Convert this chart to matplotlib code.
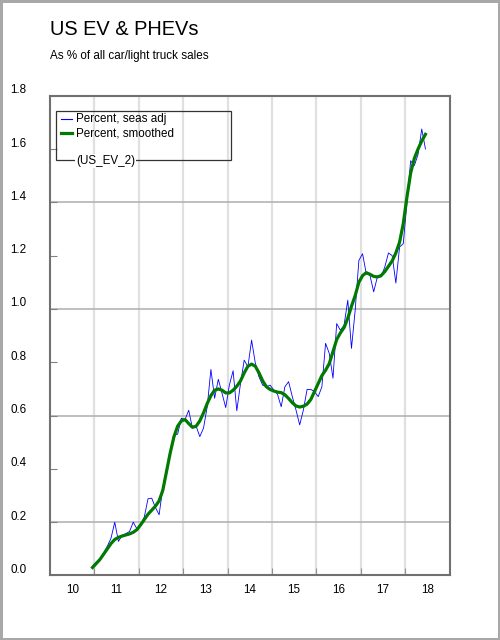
"""US EV & PHEVs share of car/light truck sales"""
import pandas as pd
import matplotlib.pyplot as plt
import matplotlib.transforms as mtransforms
from matplotlib.lines import Line2D
from matplotlib.patches import Rectangle

plt.rcParams['font.family'] = ['Liberation Sans', 'DejaVu Sans']

# monthly, Dec 2010 .. Jun 2018
months = pd.period_range('2010-12', '2018-06', freq='M')

seas_adj = [0.035, 0.05, 0.06, 0.085, 0.11, 0.14, 0.20, 0.128, 0.15, 0.157,
            0.165, 0.20, 0.175, 0.19, 0.22, 0.288, 0.29, 0.255, 0.228, 0.33,
            0.40, 0.46, 0.527, 0.53, 0.59, 0.585, 0.62, 0.553, 0.56, 0.521,
            0.553, 0.633, 0.773, 0.665, 0.736, 0.684, 0.63, 0.715, 0.768, 0.618,
            0.72, 0.808, 0.783, 0.883, 0.797, 0.745, 0.714, 0.708, 0.714, 0.696,
            0.68, 0.633, 0.708, 0.727, 0.671, 0.621, 0.565, 0.621, 0.698, 0.698,
            0.69, 0.671, 0.708, 0.871, 0.833, 0.74, 0.945, 0.92, 0.939, 1.033,
            0.852, 0.995, 1.182, 1.207, 1.132, 1.126, 1.064, 1.12, 1.12, 1.157,
            1.21, 1.20, 1.097, 1.232, 1.245, 1.40, 1.556, 1.538, 1.58, 1.675,
            1.60]

smoothed = [0.03, 0.045, 0.06, 0.08, 0.10, 0.12, 0.135, 0.143, 0.148, 0.152,
            0.156, 0.162, 0.172, 0.19, 0.21, 0.23, 0.245, 0.26, 0.28, 0.32,
            0.39, 0.46, 0.52, 0.56, 0.58, 0.585, 0.57, 0.556, 0.56, 0.58,
            0.61, 0.645, 0.675, 0.695, 0.70, 0.695, 0.685, 0.685, 0.695, 0.71,
            0.73, 0.76, 0.785, 0.793, 0.785, 0.76, 0.73, 0.708, 0.698, 0.692,
            0.688, 0.686, 0.678, 0.664, 0.648, 0.636, 0.632, 0.635, 0.643, 0.66,
            0.69, 0.72, 0.75, 0.77, 0.795, 0.84, 0.885, 0.91, 0.93, 0.965,
            1.01, 1.05, 1.10, 1.125, 1.136, 1.13, 1.122, 1.12, 1.125, 1.14,
            1.16, 1.18, 1.21, 1.25, 1.32, 1.42, 1.51, 1.565, 1.60, 1.63,
            1.655]

years = list(range(2010, 2019))
year_labels = ['10', '11', '12', '13', '14', '15', '16', '17', '18']
y_ticks = [0.0, 0.2, 0.4, 0.6, 0.8, 1.0, 1.2, 1.4, 1.6, 1.8]
y_grid = [0.2, 0.6, 1.0, 1.4]

# mid-month positions in decimal years
x = [p.year + (p.month - 0.5) / 12 for p in months]

fig = plt.figure(figsize=(5, 6.4), dpi=100)
fig.patch.set_edgecolor('#a8a8a8')
fig.patch.set_linewidth(2.2)
ax = fig.add_axes([0.1, 0.1008, 0.799, 0.7497])

# grid
for v in y_grid:
    ax.axhline(v, color='#b4b4b4', lw=1.2, zorder=1)
for yr in years[1:]:
    ax.axvline(yr, color='#e0e0e0', lw=1.6, zorder=0)

ax.plot(x, seas_adj, color='#0000ff', lw=0.6, zorder=3)
ax.plot(x, smoothed, color='#007a00', lw=2.3, zorder=4)

ax.set_xlim(2010, 2019)
ax.set_ylim(0, 1.8)

ax.set_xticks(years[1:])
ax.set_xticklabels([])
ax.set_xticks([y + 0.5 for y in years], minor=True)
ax.set_xticklabels(year_labels, minor=True)
ax.tick_params(axis='x', which='major', direction='in', length=5, color='#909090')
ax.tick_params(axis='x', which='minor', length=0, pad=6, labelsize=8.4)

ax.set_yticks(y_ticks)
ax.set_yticklabels(['%.1f' % v for v in y_ticks])
ax.tick_params(axis='y', direction='in', length=5, color='#808080', pad=17,
               labelsize=8.4)
offset = mtransforms.ScaledTranslation(0, 5 / 72, fig.dpi_scale_trans)
for lab in ax.get_yticklabels():
    lab.set_transform(lab.get_transform() + offset)

for s in ax.spines.values():
    s.set_color('#707070')
    s.set_linewidth(1.5)

# titles
fig.text(0.1, 1 - 35 / 640, 'US EV & PHEVs', fontsize=14.4, va='baseline')
fig.text(0.1, 1 - 58.5 / 640, 'As % of all car/light truck sales',
         fontsize=8.4, va='baseline')

# legend box
fig.add_artist(Rectangle((56 / 500, 1 - 160 / 640), 175 / 500, 49 / 640,
                         transform=fig.transFigure, fill=False,
                         edgecolor='#333333', lw=0.9, zorder=10))
fig.add_artist(Line2D([61 / 500, 72 / 500], [1 - 119 / 640] * 2,
                      transform=fig.transFigure, color='#0000ff', lw=0.8))
fig.add_artist(Line2D([61 / 500, 72 / 500], [1 - 133 / 640] * 2,
                      transform=fig.transFigure, color='#007a00', lw=2.3))
fig.text(76 / 500, 1 - 119 / 640, 'Percent, seas adj', fontsize=8.4,
         va='center', zorder=11)
fig.text(76 / 500, 1 - 133 / 640, 'Percent, smoothed', fontsize=8.4,
         va='center', zorder=11)
fig.text(76 / 500, 1 - 161 / 640, '(US_EV_2)', fontsize=8.4, va='center',
         zorder=11, bbox=dict(facecolor='white', edgecolor='none', pad=0.5))

fig.savefig('out.png', dpi=100)
